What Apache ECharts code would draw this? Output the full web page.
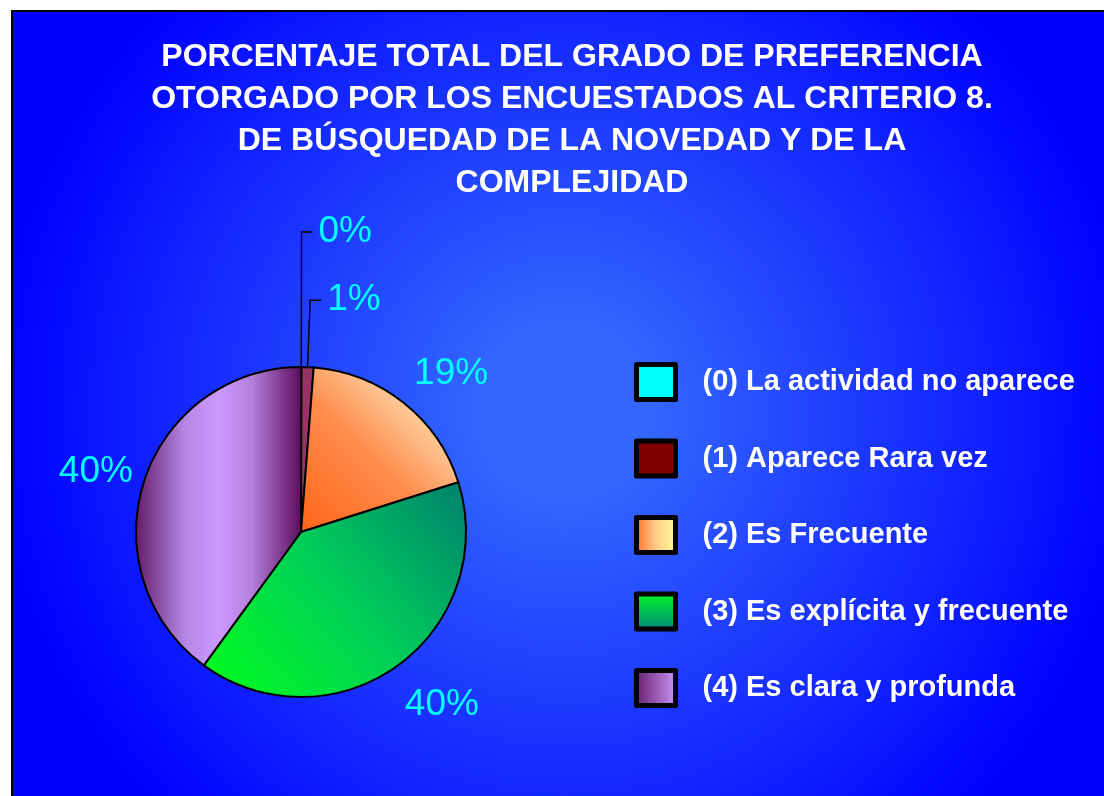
<!DOCTYPE html>
<html>
<head>
<meta charset="utf-8">
<title>Criterio 8</title>
<script src="https://cdn.jsdelivr.net/npm/echarts@6/dist/echarts.min.js"></script>
<style>
  html, body { margin: 0; padding: 0; background: #fff; }
  #main { width: 1104px; height: 796px; }
</style>
</head>
<body>
<div id="main"></div>
<script>
// datos (porcentajes)
const categorias = [
  '(0) La actividad no aparece',
  '(1) Aparece Rara vez',
  '(2) Es Frecuente',
  '(3) Es explícita y frecuente',
  '(4) Es clara y profunda'
]
const valores = [0, 1.2, 18.9, 39.9, 40.0]
const tituloLineas = [
  'PORCENTAJE TOTAL DEL GRADO DE PREFERENCIA',
  'OTORGADO POR LOS ENCUESTADOS AL CRITERIO 8.',
  'DE BÚSQUEDAD DE LA NOVEDAD Y DE LA',
  'COMPLEJIDAD'
]

const FUENTE = '"Liberation Sans", Arial, Helvetica, sans-serif'

// degradado lineal
function lineal(x, y, x2, y2, paradas) {
  return {
    type: 'linear', x, y, x2, y2,
    colorStops: paradas.map(p => ({ offset: p[0], color: p[1] }))
  }
}

// colores de los sectores
const coloresSector = [
  '#00ffff',
  '#993366',
  lineal(0, 1, 1, 0, [[0, '#ff6418'], [0.45, '#ff8c4c'], [0.75, '#ffd0a0'], [0.9, '#ffe8bb'], [1, '#ffdcae']]),
  lineal(0, 1, 1, 0, [[0, '#00ff1a'], [0.5, '#00d058'], [1, '#00806f']]),
  lineal(0, 0, 1, 0, [[0, '#661a66'], [0.3, '#b488e6'], [0.5, '#cc99ff'], [0.7, '#b380dc'], [1, '#5a0a5a']])
]
// colores de la leyenda
const coloresLeyenda = [
  '#00ffff',
  '#800000',
  lineal(0, 0, 1, 0, [[0, '#ff6622'], [0.5, '#ffcc88'], [1, '#ffff99']]),
  lineal(0, 0, 0, 1, [[0, '#00ff22'], [1, '#008080']]),
  lineal(0, 0, 1, 0, [[0, '#661a66'], [1, '#cc99ff']])
]
// largo de la guía para las etiquetas pequeñas (0% y 1%)
const largoGuia = [135, 67]
// pequeño ajuste de las etiquetas grandes (como las coloca Excel)
const ajusteEtiqueta = { 2: [14, 13], 3: [13, -5], 4: [3, 8] }

const centro = [301, 532]
const etiqueta = {
  formatter: '{d}%',
  color: '#00ffff',
  fontSize: 37,
  fontFamily: FUENTE
}

const chart = echarts.init(document.getElementById('main'))
chart.setOption({
  animation: false,
  backgroundColor: '#fff',
  graphic: [{
    type: 'rect',
    z: -10,
    silent: true,
    shape: { x: 12, y: 11, width: 1200, height: 900 },
    style: {
      fill: {
        type: 'radial', x: 565, y: 410, r: 570, global: true,
        colorStops: [{ offset: 0, color: '#3366ff' }, { offset: 0.15, color: '#3366ff' }, { offset: 1, color: '#0000ff' }]
      },
      stroke: '#000',
      lineWidth: 2
    }
  }],
  title: {
    text: tituloLineas.join('\n'),
    left: 567,
    top: 31,
    textAlign: 'center',
    textStyle: {
      color: '#fff',
      fontSize: 32,
      fontWeight: 'bold',
      fontFamily: FUENTE,
      lineHeight: 42
    }
  },
  legend: {
    orient: 'vertical',
    left: 634,
    top: 362,
    padding: 0,
    icon: 'rect',
    itemWidth: 39,
    itemHeight: 35,
    itemGap: 36.5,
    selectedMode: false,
    itemStyle: { borderColor: '#000', borderWidth: 5 },
    textStyle: {
      color: '#fff',
      fontSize: 29,
      fontWeight: 'bold',
      fontFamily: FUENTE,
      lineHeight: 35,
      padding: [0, 0, 0, 22]
    },
    data: categorias.map((n, i) => ({ name: n, itemStyle: { color: coloresLeyenda[i] } }))
  },
  series: [
    {
      type: 'pie',
      name: 'Criterio 8',
      center: centro,
      radius: 165,
      startAngle: 89.9,
      clockwise: true,
      avoidLabelOverlap: false,
      percentPrecision: 0,
      silent: true,
      itemStyle: { borderColor: '#000', borderWidth: 2 },
      label: Object.assign({ show: false, position: 'outside', distanceToLabelLine: 6 }, etiqueta),
      labelLine: { show: false, lineStyle: { color: '#000', width: 1.5 } },
      data: categorias.map((n, i) => ({
        name: n,
        value: valores[i],
        itemStyle: { color: coloresSector[i] },
        label: { show: i < 2 },
        labelLine: i < 2 ? { show: true, length: largoGuia[i], length2: 11 } : { show: false }
      }))
    },
    {
      // anillo invisible: sólo sitúa las etiquetas grandes sobre la bisectriz
      type: 'pie',
      name: 'etiquetas',
      center: centro,
      radius: [206, 226],
      startAngle: 89.9,
      clockwise: true,
      avoidLabelOverlap: false,
      percentPrecision: 0,
      silent: true,
      legendHoverLink: false,
      itemStyle: { color: 'rgba(0,0,0,0)', borderWidth: 0 },
      label: Object.assign({ position: 'inside' }, etiqueta),
      labelLine: { show: false },
      labelLayout: function (p) {
        const d = ajusteEtiqueta[p.dataIndex]
        return d ? { dx: d[0], dy: d[1] } : {}
      },
      data: categorias.map((n, i) => ({
        name: n,
        value: valores[i],
        label: { show: i >= 2 }
      }))
    }
  ]
})
</script>
</body>
</html>
